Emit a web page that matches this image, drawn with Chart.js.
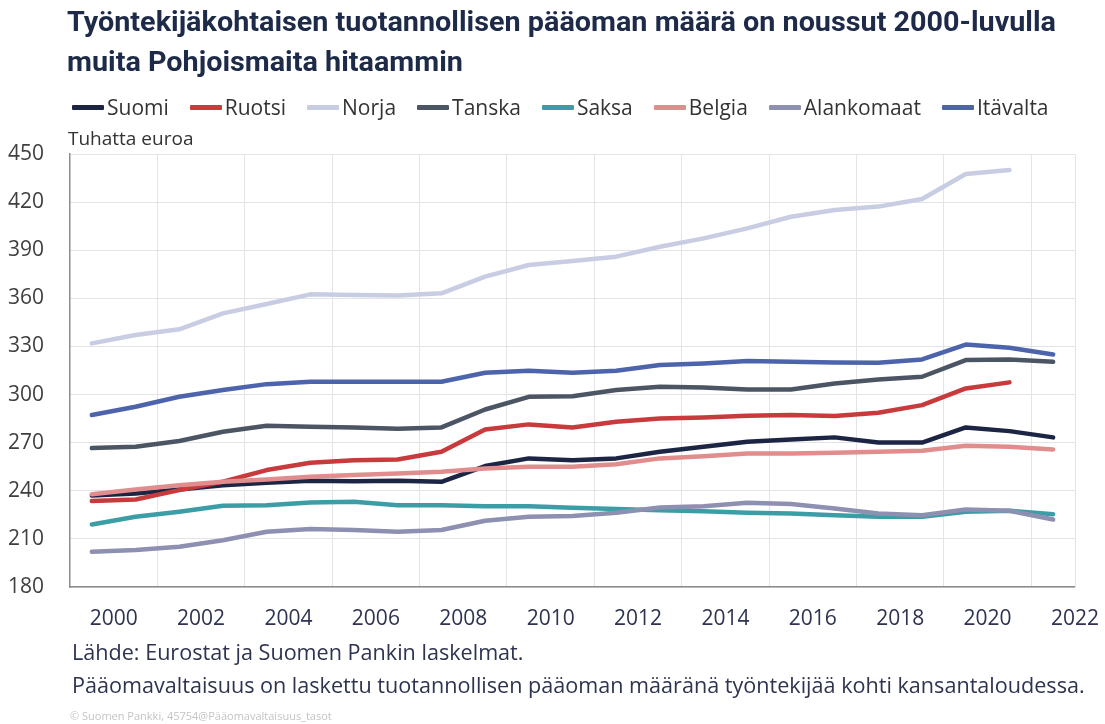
<!DOCTYPE html>
<html>
<head>
<meta charset="utf-8">
<script src="https://cdn.jsdelivr.net/npm/chart.js@4.4.1/dist/chart.umd.min.js"></script>
<style>
  html, body { margin: 0; padding: 0; background: #fff; }
  #wrap { position: relative; width: 1105px; height: 724px; overflow: hidden; font-family: "Open Sans", sans-serif; }
  #chartBox { position: absolute; left: 0; top: 0; width: 1105px; height: 724px; }
  .title { position: absolute; left: 67px; font-family: Roboto, sans-serif; font-weight: 700; font-size: 27px;
           line-height: 32px; color: #1d2a48; white-space: nowrap; transform-origin: left center; }
  #legend { position: absolute; left: 72px; top: 93px; height: 28px; display: flex; align-items: center; gap: 21px;
            font-size: 21px; color: #333; white-space: nowrap; }
  #legend .item { display: flex; align-items: center; }
  #legend .swatch { width: 32px; height: 5px; margin-right: 3px; border-radius: 1px; }
  .note { position: absolute; left: 72px; font-size: 21.6px; line-height: 26px; color: #2e3450; white-space: nowrap; }
  #unit { position: absolute; left: 68px; top: 126px; font-size: 19px; line-height: 24px; color: #333; }
  #copy { position: absolute; left: 70px; top: 709px; font-size: 11px; line-height: 14px; color: #c4c4c4; }
</style>
</head>
<body>
<div id="wrap">
  <div id="chartBox"><canvas id="capitalChart"></canvas></div>
  <div class="title" id="t1" style="top:6px">Työntekijäkohtaisen tuotannollisen pääoman määrä on noussut 2000-luvulla</div>
  <div class="title" id="t2" style="top:46px">muita Pohjoismaita hitaammin</div>
  <div id="legend"></div>
  <div id="unit">Tuhatta euroa</div>
  <div class="note" style="top:639px">Lähde: Eurostat ja Suomen Pankin laskelmat.</div>
  <div class="note" style="top:672px">Pääomavaltaisuus on laskettu tuotannollisen pääoman määränä työntekijää kohti kansantaloudessa.</div>
  <div id="copy">© Suomen Pankki, 45754@Pääomavaltaisuus_tasot</div>
</div>

<script>
// vuodet ja sarjat (tuhatta euroa per työntekijä)
const years = [2000, 2001, 2002, 2003, 2004, 2005, 2006, 2007, 2008, 2009, 2010, 2011,
               2012, 2013, 2014, 2015, 2016, 2017, 2018, 2019, 2020, 2021, 2022];
const xTickLabels = [2000, 2002, 2004, 2006, 2008, 2010, 2012, 2014, 2016, 2018, 2020, 2022];
const yTicks = [180, 210, 240, 270, 300, 330, 360, 390, 420, 450];

const suomi = [237, 238.3, 240.8, 243.5, 245, 246.2, 246, 246.2, 245.6, 255.4, 260.2, 259.1,
               260.2, 264.3, 267.4, 270.6, 272, 273.3, 270.1, 270.1, 279.5, 277.2, 273.3];
const ruotsi = [233.6, 234.6, 240.4, 245.6, 252.9, 257.5, 259, 259.5, 264.3, 278.2, 281.4, 279.5,
                283, 285.1, 285.7, 286.8, 287.2, 286.6, 288.6, 293.4, 303.8, 307.6];
const norja = [331.9, 337.1, 340.7, 350.6, 356.5, 362.5, 362.1, 361.7, 363.1, 373.5, 380.8, 383.3,
               386, 392.2, 397.4, 403.6, 410.9, 415.1, 417.2, 421.9, 437.5, 440];
const tanska = [266.6, 267.4, 271, 276.8, 280.5, 280, 279.5, 278.7, 279.5, 290.7, 298.6, 299,
                302.8, 304.9, 304.4, 303.2, 303.2, 306.9, 309.4, 311.1, 321.5, 321.9, 320.4];
const saksa = [219, 223.8, 226.9, 230.6, 231, 232.7, 233.1, 231, 231, 230.4, 230.4, 229.4,
               228.6, 227.9, 227.3, 226.3, 225.9, 224.8, 223.8, 223.8, 226.9, 227.5, 225.4];
const belgia = [237.9, 240.8, 243.5, 245.6, 247, 248.7, 249.8, 250.8, 251.8, 253.9, 255, 255,
                256.6, 260.2, 261.6, 263.3, 263.3, 263.7, 264.3, 264.9, 268.1, 267.4, 265.8];
const alankomaat = [202, 203, 205.1, 209.2, 214.4, 216.1, 215.5, 214.4, 215.5, 221.3, 223.8, 224.2,
                    226.3, 229.6, 230.4, 232.5, 231.7, 229, 225.9, 224.8, 228.4, 227.5, 222.1];
const itavalta = [287.2, 292.4, 298.6, 302.8, 306.5, 308, 308, 308, 308, 313.6, 314.8, 313.6,
                  314.8, 318.4, 319.4, 320.9, 320.4, 320, 319.8, 321.9, 331.2, 329.2, 325];

const seriesNames = ['Suomi', 'Ruotsi', 'Norja', 'Tanska', 'Saksa', 'Belgia', 'Alankomaat', 'Itävalta'];
const seriesData = [suomi, ruotsi, norja, tanska, saksa, belgia, alankomaat, itavalta];
const seriesColors = ['#1c2543', '#c93a3c', '#c8cde3', '#4c5564', '#3b9ea7', '#e28d8d', '#8d90b0', '#4d64ad'];

// ─── legend (html) ───────────────────────────────────────────────────────────
const legendEl = document.getElementById('legend');
seriesNames.forEach((name, i) => {
  const item = document.createElement('div');
  item.className = 'item';
  item.innerHTML = `<span class="swatch" style="background:${seriesColors[i]}"></span><span>${name}</span>`;
  legendEl.appendChild(item);
});

// otsikko puristetaan samaan leveyteen kuin alkuperäisessä
const t1 = document.getElementById('t1');
const k = 989 / t1.getBoundingClientRect().width;
['t1', 't2'].forEach(id => { document.getElementById(id).style.transform = `scaleX(${k})`; });

// ─── chart ───────────────────────────────────────────────────────────────────
const gridColor = '#e4e4e8';
const axisColor = '#8c8c8c';

new Chart(document.getElementById('capitalChart'), {
  type: 'line',
  data: {
    datasets: seriesData.map((vals, i) => ({
      label: seriesNames[i],
      data: vals.map((v, j) => ({ x: years[j], y: v })),
      borderColor: seriesColors[i],
      backgroundColor: seriesColors[i],
      borderWidth: 4.5,
      pointRadius: 0,
      tension: 0,
      borderJoinStyle: 'round',
      borderCapStyle: 'round',
      order: seriesNames.length - i,
    })),
  },
  options: {
    responsive: true,
    maintainAspectRatio: false,
    animation: false,
    layout: { padding: { left: 8, top: 154, right: 30, bottom: 77 } },
    plugins: { legend: { display: false }, tooltip: { enabled: false } },
    scales: {
      x: {
        type: 'linear',
        min: years[0] - 0.5,
        max: years[years.length - 1] + 0.5,
        afterBuildTicks: s => { s.ticks = xTickLabels.map(v => ({ value: v + 0.5 })); },
        afterFit: s => { s.height = 60; },
        // tick marks are invisible, they only push the labels down
        grid: { color: gridColor, lineWidth: 1, offset: true, drawTicks: true, tickLength: 19, tickColor: 'rgba(0,0,0,0)' },
        border: { color: axisColor, width: 1.5 },
        ticks: {
          padding: 0,
          color: '#2d3350',
          font: { family: 'Open Sans', size: 21 },
          callback: v => String(v - 0.5),
        },
      },
      y: {
        min: yTicks[0],
        max: yTicks[yTicks.length - 1],
        afterBuildTicks: s => { s.ticks = yTicks.map(v => ({ value: v })); },
        afterFit: s => { s.width = 62; },
        grid: { color: gridColor, lineWidth: 1, drawTicks: false },
        border: { color: axisColor, width: 1.5 },
        ticks: {
          crossAlign: 'far',
          color: '#404040',
          font: { family: 'Open Sans', size: 21 },
        },
      },
      yRight: {
        position: 'right',
        min: yTicks[0],
        max: yTicks[yTicks.length - 1],
        afterFit: s => { s.width = 0; },
        grid: { display: false, drawTicks: false },
        border: { color: gridColor, width: 1 },
        ticks: { display: false },
      },
    },
  },
});
</script>
</body>
</html>
